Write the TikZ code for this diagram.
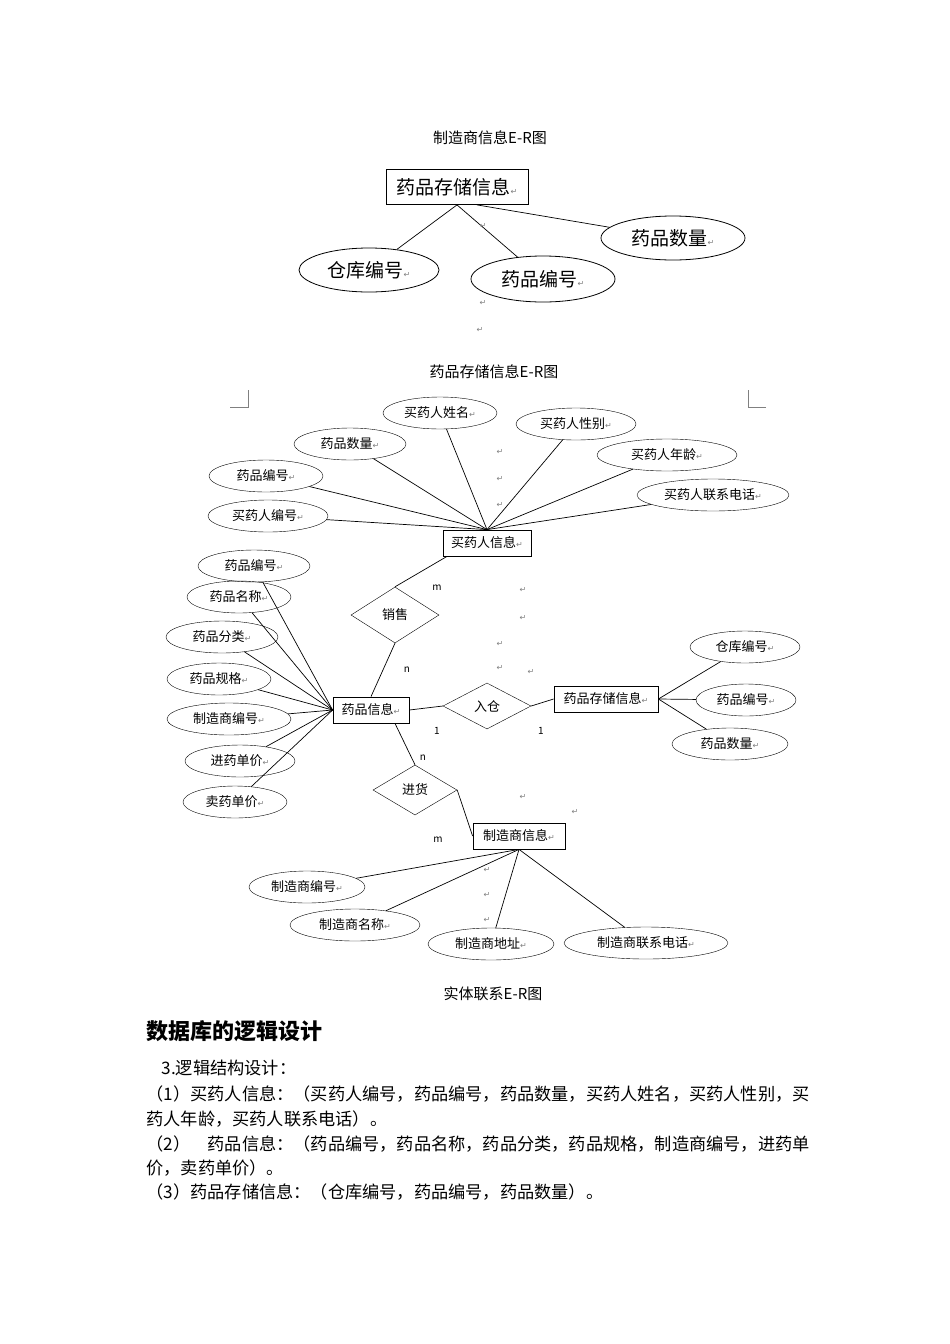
\documentclass[tikz,border=0pt]{standalone}
\usepackage{fontspec}
\setmainfont{Noto Sans CJK SC}
\newfontfamily\djfont{DejaVu Sans}
\usetikzlibrary{shapes.geometric}
\newcommand{\rt}{{\djfont\fontsize{8}{8}\selectfont\color{gray}↵}}
\tikzset{
 ent/.style={draw,thick,rectangle,minimum height=26pt,inner sep=3pt,font=\fontsize{13}{13}\selectfont},
 att/.style={draw,ellipse,inner sep=0pt,minimum height=32pt,font=\fontsize{13}{13}\selectfont},
 big/.style={font=\fontsize{19}{19}\selectfont},
 rel/.style={draw,diamond,inner sep=0pt,font=\fontsize{13}{13}\selectfont},
 ln/.style={draw,line width=0.7pt},
 captxt/.style={font=\fontsize{15}{15}\selectfont},
 body/.style={anchor=west,font=\fontsize{17.2}{17.2}\selectfont},
 mk/.style={font=\fontsize{10}{10}\selectfont},
 stray/.style={font=\djfont\fontsize{8}{8}\selectfont,text=gray}
}
\begin{document}
\begin{tikzpicture}[x=1pt,y=-1pt]
\useasboundingbox[fill=white] (0,0) rectangle (950,1344);
\node[captxt] (c1) at (490,138) {制造商信息E-R图};
% top diagram
\node[ent,big,minimum width=142pt,minimum height=35pt] (s) at (457,187) {药品存储信息\rt};
\node[att,big,thick,minimum width=140pt,minimum height=44pt] (t1) at (369,270) {仓库编号\rt};
\node[att,big,thick,minimum width=144pt,minimum height=46pt] (t2) at (543,279) {药品编号\rt};
\node[att,big,thick,minimum width=144pt,minimum height=44pt] (t3) at (673,238) {药品数量\rt};
\draw[ln] (s.south) -- (t1);
\draw[ln] (s.south) -- (t2);
\draw[ln] ([xshift=20pt]s.south) -- (t3);
\node[stray] at (483,226) {↵};
\node[stray] at (483,303) {↵};
\node[stray] at (480,330) {↵};
\node[captxt] (c2) at (494,372) {药品存储信息E-R图};
\draw[gray] (230,407) -- (248,407) -- (248,390);
\draw[gray] (766,407) -- (748,407) -- (748,390);
% main
\node[ent,minimum width=88pt] (b) at (487,543) {买药人信息\rt};
\node[att,minimum width=114pt] (b1) at (440,413) {买药人姓名\rt};
\node[att,minimum width=120pt] (b2) at (576,424) {买药人性别\rt};
\node[att,minimum width=112pt] (b3) at (350,444) {药品数量\rt};
\node[att,minimum width=140pt] (b4) at (667,455) {买药人年龄\rt};
\node[att,minimum width=114pt] (b5) at (266,476) {药品编号\rt};
\node[att,minimum width=152pt] (b6) at (713,495) {买药人联系电话\rt};
\node[att,minimum width=120pt] (b7) at (268,516) {买药人编号\rt};
\foreach \a in {b1,b2,b3,b4,b5,b6,b7} \draw[ln] (\a) -- (b.north);
\node[rel,minimum width=88pt,minimum height=56pt] (xs) at (395,615) {销售};
\node[ent,minimum width=76pt] (d) at (371,710) {药品信息\rt};
\draw[ln] ([xshift=-40pt]b.south) -- (xs.north);
\draw[ln] (xs.south) -- (d.north);
\node[mk] at (437,588) {m};
\node[mk] at (407,670) {n};
\node[att,minimum width=112pt] (d1) at (254,566) {药品编号\rt};
\node[att,minimum width=104pt] (d2) at (239,597) {药品名称\rt};
\node[att,minimum width=112pt] (d3) at (222,637) {药品分类\rt};
\node[att,minimum width=104pt] (d4) at (219,679) {药品规格\rt};
\node[att,minimum width=124pt] (d5) at (229,719) {制造商编号\rt};
\node[att,minimum width=110pt] (d6) at (240,761) {进药单价\rt};
\node[att,minimum width=104pt] (d7) at (235,802) {卖药单价\rt};
\foreach \a in {d1,d2,d3,d4,d5,d6,d7} \draw[ln] (\a) -- (d.west);
\node[rel,minimum width=88pt,minimum height=46pt] (rc) at (487,706) {入仓};
\node[ent,minimum width=104pt] (k) at (606,699) {药品存储信息\rt};
\draw[ln] (d.east) -- (rc.west);
\draw[ln] (rc.east) -- (k.west);
\node[mk] at (437,731) {1};
\node[mk] at (541,731) {1};
\node[att,minimum width=110pt] (k1) at (745,647) {仓库编号\rt};
\node[att,minimum width=100pt] (k2) at (746,700) {药品编号\rt};
\node[att,minimum width=116pt] (k3) at (730,744) {药品数量\rt};
\foreach \a in {k1,k2,k3} \draw[ln] (k.east) -- (\a);
\node[rel,minimum width=84pt,minimum height=50pt] (jh) at (415,790) {进货};
\node[ent,minimum width=92pt] (z) at (519,836) {制造商信息\rt};
\draw[ln] ([xshift=24pt]d.south) -- (jh.north);
\draw[ln] (jh.east) -- (z.west);
\node[mk] at (423,758) {n};
\node[mk] at (438,840) {m};
\node[att,minimum width=116pt] (z1) at (307,887) {制造商编号\rt};
\node[att,minimum width=130pt] (z2) at (355,925) {制造商名称\rt};
\node[att,minimum width=126pt] (z3) at (491,944) {制造商地址\rt};
\node[att,minimum width=164pt] (z4) at (646,943) {制造商联系电话\rt};
\foreach \a in {z1,z2,z3,z4} \draw[ln] (z.south) -- (\a);
\foreach \p in {(500,452),(500,479),(500,505),(523,590),(523,618),(500,644),(500,668),(531,672),(523,797),(575,812),(487,870),(487,895),(487,920)} \node[stray] at \p {↵};
\node[captxt] (c3) at (493,994) {实体联系E-R图};
% text
\node[anchor=west,font=\bfseries\fontsize{22}{22}\selectfont] (h) at (143,1031) {数据库的逻辑设计};
\node[body] (l1) at (158,1068) {3.逻辑结构设计：};
\node[body] (l2) at (143,1094) {（1）买药人信息：（买药人编号，药品编号，药品数量，买药人姓名，买药人性别，买};
\node[body] (l3) at (143,1119) {药人年龄，买药人联系电话）。};
\node[body] (l4) at (143,1144) {（2）\quad 药品信息：（药品编号，药品名称，药品分类，药品规格，制造商编号，进药单};
\node[body] (l5) at (143,1168) {价，卖药单价）。};
\node[body] (l6) at (143,1192) {（3）药品存储信息：（仓库编号，药品编号，药品数量）。};
\end{tikzpicture}
\end{document}
